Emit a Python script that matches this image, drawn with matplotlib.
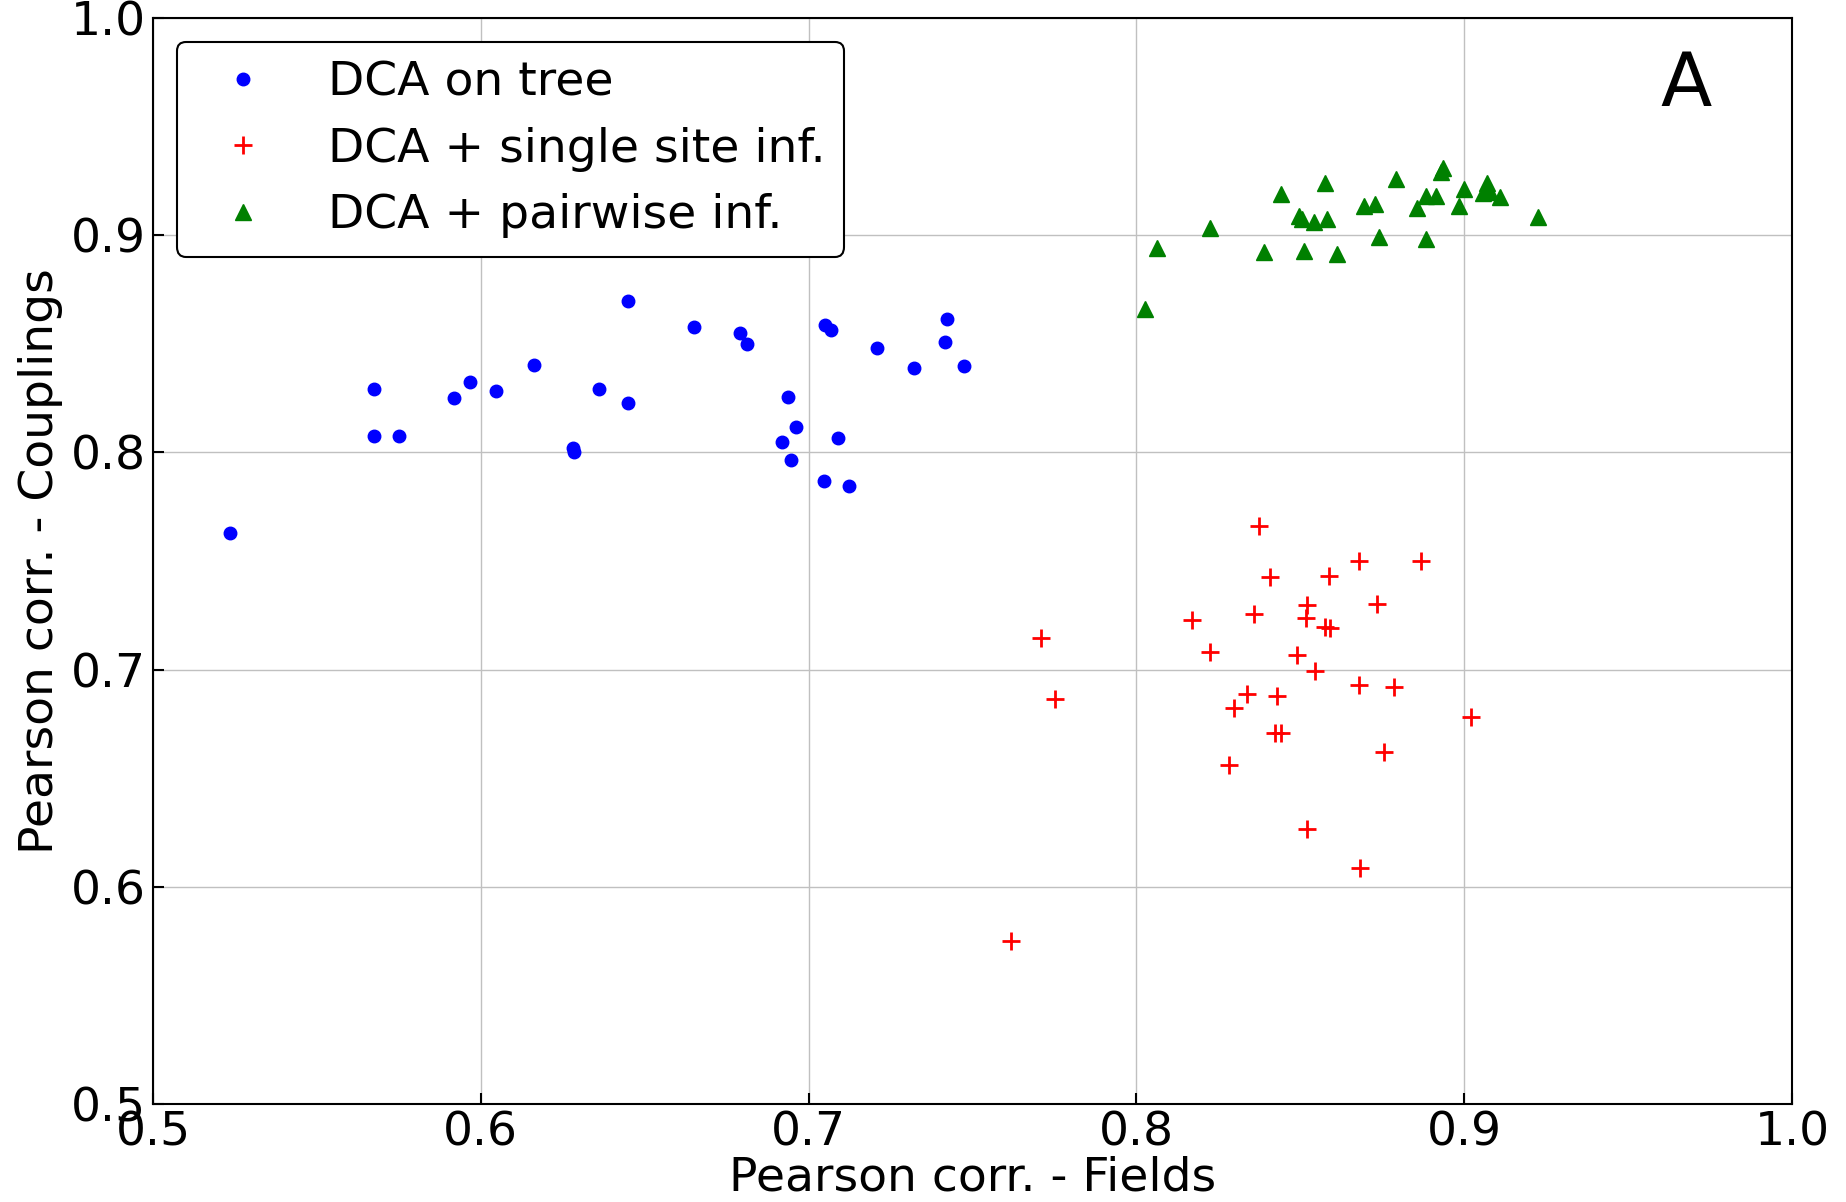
import matplotlib.pyplot as plt
import numpy as np

# DCA on tree
tree_x = [0.5235, 0.5673, 0.5673, 0.5751, 0.5917, 0.5968, 0.6047, 0.6162, 0.6361,
          0.6282, 0.6285, 0.6448, 0.6448, 0.6650, 0.6790, 0.6812, 0.6936, 0.6961,
          0.6919, 0.6945, 0.7050, 0.7067, 0.7089, 0.7048, 0.7122, 0.7210, 0.7321,
          0.7421, 0.7417, 0.7473]
tree_y = [0.7629, 0.8292, 0.8076, 0.8076, 0.8250, 0.8326, 0.8284, 0.8402, 0.8292,
          0.8022, 0.8000, 0.8697, 0.8229, 0.8577, 0.8551, 0.8501, 0.8257, 0.8118,
          0.8048, 0.7964, 0.8585, 0.8562, 0.8068, 0.7867, 0.7845, 0.8479, 0.8390,
          0.8613, 0.8508, 0.8396]

# DCA + single site inference
single_x = [0.8374, 0.8679, 0.8868, 0.8406, 0.8586, 0.8734, 0.8521, 0.8359, 0.8170,
            0.8516, 0.8574, 0.8591, 0.7710, 0.8225, 0.8489, 0.8545, 0.8679, 0.8785,
            0.8337, 0.8428, 0.7752, 0.8296, 0.9019, 0.8423, 0.8440, 0.8756, 0.8281,
            0.8521, 0.8683, 0.7617]
single_y = [0.7661, 0.7500, 0.7500, 0.7425, 0.7431, 0.7304, 0.7299, 0.7256, 0.7228,
            0.7236, 0.7198, 0.7193, 0.7144, 0.7083, 0.7069, 0.6992, 0.6928, 0.6922,
            0.6886, 0.6880, 0.6866, 0.6825, 0.6782, 0.6707, 0.6707, 0.6622, 0.6559,
            0.6266, 0.6085, 0.5752]

# DCA + pairwise inference
pair_x = [0.8026, 0.8064, 0.8225, 0.8390, 0.8441, 0.8496, 0.8504, 0.8510, 0.8543,
          0.8575, 0.8580, 0.8612, 0.8694, 0.8728, 0.8741, 0.8792, 0.8856, 0.8883,
          0.8884, 0.8913, 0.8928, 0.8936, 0.8985, 0.9000, 0.9069, 0.9058, 0.9079,
          0.9109, 0.9226]
pair_y = [0.8659, 0.8943, 0.9032, 0.8921, 0.9188, 0.9088, 0.9073, 0.8927, 0.9062,
          0.9239, 0.9076, 0.8915, 0.9134, 0.9142, 0.8993, 0.9259, 0.9125, 0.9182,
          0.8981, 0.9182, 0.9290, 0.9308, 0.9133, 0.9211, 0.9239, 0.9193, 0.9198,
          0.9174, 0.9085]

fs = 34

fig = plt.figure(figsize=(18.46, 12.02), dpi=100)
ax = fig.add_axes([0.0829, 0.0815, 0.8879, 0.9035])

ax.plot(tree_x, tree_y, 'o', color='blue', markersize=9, label='DCA on tree')
ax.plot(single_x, single_y, '+', color='red', markersize=13, markeredgewidth=2,
        label='DCA + single site inf.')
ax.plot(pair_x, pair_y, '^', color='green', markersize=12, label='DCA + pairwise inf.')

ax.set_xlim(0.5, 1.0)
ax.set_ylim(0.5, 1.0)
ax.set_xticks(np.arange(0.5, 1.01, 0.1))
ax.set_yticks(np.arange(0.5, 1.01, 0.1))
ax.grid(True, color='#c0c0c0', linewidth=1)
ax.tick_params(direction='in', length=8, width=1.5, labelsize=fs, pad=5)
for s in ax.spines.values():
    s.set_linewidth(1.5)

ax.set_xlabel('Pearson corr. - Fields', fontsize=fs, labelpad=0)
ax.set_ylabel('Pearson corr. - Couplings', fontsize=fs, labelpad=6)

leg = ax.legend(loc='upper left', fontsize=fs, fancybox=True, framealpha=1,
                edgecolor='black', labelspacing=0.45)
leg.get_frame().set_linewidth(1.5)

ax.text(0.935, 0.938, 'A', transform=ax.transAxes, fontsize=54,
        ha='center', va='center')

fig.savefig('out.png', dpi=100)
